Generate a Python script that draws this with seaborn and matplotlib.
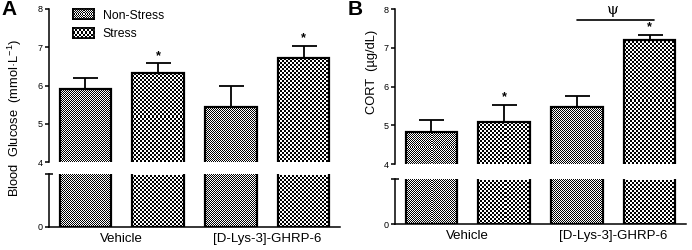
import numpy as np
import pandas as pd
import matplotlib
matplotlib.use("Agg")
import matplotlib.pyplot as plt
import seaborn as sns
from matplotlib.patches import Patch

# ---- data ----
groups = ["Vehicle", "[D-Lys-3]-GHRP-6"]
conditions = ["Non-Stress", "Stress"]

glucose_mean = [5.90, 6.32, 5.43, 6.72]   # Vehicle NS, Vehicle S, GHRP NS, GHRP S
glucose_sem = [0.30, 0.26, 0.57, 0.31]
glucose_star = [False, True, False, True]

cort_mean = [4.82, 5.08, 5.47, 7.20]
cort_sem = [0.33, 0.45, 0.30, 0.13]
cort_star = [False, True, False, True]
cort_psi_level = 7.72

checker_cell = {"Non-Stress": 1, "Stress": 2}

sns.set_style("ticks")
plt.rcParams["font.family"] = ["Liberation Sans", "DejaVu Sans"]
plt.rcParams["axes.linewidth"] = 1.1
plt.rcParams["axes.edgecolor"] = "black"
plt.rcParams["xtick.color"] = "black"
plt.rcParams["ytick.color"] = "black"
plt.rcParams["text.color"] = "black"
plt.rcParams["axes.labelcolor"] = "black"
plt.rcParams["mathtext.fontset"] = "custom"
plt.rcParams["mathtext.rm"] = "Liberation Sans"
plt.rcParams["mathtext.it"] = "Liberation Sans:italic"


def make_df(means):
    rows = []
    k = 0
    for g in groups:
        for c in conditions:
            rows.append({"group": g, "condition": c, "value": means[k]})
            k += 1
    return pd.DataFrame(rows)


def checker(ny, nx):
    yy, xx = np.indices((ny, nx))
    return (xx + yy) % 2


def fill_checker(ax, patch, cell):
    # pixel-aligned checkerboard covering the visible part of the bar
    lo, hi = ax.get_ylim()
    x0, x1 = patch.get_x(), patch.get_x() + patch.get_width()
    y0 = max(patch.get_y(), lo)
    y1 = min(patch.get_y() + patch.get_height(), hi)
    p0 = ax.transData.transform((x0, y0))
    p1 = ax.transData.transform((x1, y1))
    px0, py0 = np.round(p0[0]), np.round(p0[1])
    nx = max(1, int((np.round(p1[0]) - px0) // cell))
    ny = max(1, int((np.round(p1[1]) - py0) // cell))
    inv = ax.transData.inverted()
    d0 = inv.transform((px0, py0))
    d1 = inv.transform((px0 + nx * cell, py0 + ny * cell))
    ax.imshow(checker(ny, nx), extent=(d0[0], d1[0], d0[1], d1[1]), origin="lower",
              cmap="gray", vmin=0, vmax=1, interpolation="nearest",
              aspect="auto", zorder=1.5)
    patch.set_facecolor("none")
    patch.set_zorder(2)


def bars(ax, df):
    sns.barplot(data=df, x="group", y="value", hue="condition",
                hue_order=conditions, order=groups, width=1.0, gap=0.29,
                errorbar=None, edgecolor="black", linewidth=1.6,
                palette=["white", "white"], legend=False, ax=ax)


def draw_panel(ax_top, ax_bot, means, sems, stars, ylabel, ylab_xy, letter, letter_xy):
    df = make_df(means)
    for ax in (ax_top, ax_bot):
        bars(ax, df)
        ax.set_xlim(-0.5, 1.5)
    ax_top.set_ylim(4, 8)
    ax_bot.set_ylim(0, 1)
    fig.canvas.draw()

    for ax in (ax_top, ax_bot):
        rects = sorted(ax.patches, key=lambda p: p.get_x())
        for i, r in enumerate(rects):
            fill_checker(ax, r, checker_cell[conditions[i % 2]])
        ax.set_xlim(-0.5, 1.5)
    ax_top.set_ylim(4, 8)
    ax_bot.set_ylim(0, 1)

    rects = sorted(ax_top.patches, key=lambda p: p.get_x())
    xc = [r.get_x() + r.get_width() / 2 for r in rects]
    ax_top.errorbar(xc, means, yerr=[np.zeros(len(sems)), sems], fmt="none",
                    ecolor="black", elinewidth=1.3, capsize=9, capthick=1.3, zorder=1)
    for x, m, s, st in zip(xc, means, sems, stars):
        if st:
            ax_top.text(x, m + s + 0.12, "*", ha="center", va="baseline",
                        fontsize=9, fontweight="bold")

    # top axes: only the left spine
    sns.despine(ax=ax_top, bottom=True)
    ax_top.set_xticks([])
    ax_top.set_xlabel("")
    ax_top.set_ylabel("")
    ax_top.set_yticks([4, 5, 6, 7, 8])
    ax_top.tick_params(axis="y", labelsize=6.5, length=3, width=1.1, pad=1.5)

    sns.despine(ax=ax_bot)
    ax_bot.set_yticks([0])
    ax_bot.set_yticks([1], minor=True)
    ax_bot.tick_params(axis="y", which="major", labelsize=6.5, length=3, width=1.1, pad=1.5)
    ax_bot.tick_params(axis="y", which="minor", direction="inout", length=6, width=1.1)
    ax_bot.tick_params(axis="x", length=0, labelsize=9.5, pad=4)
    ax_bot.set_xlabel("")
    ax_bot.set_ylabel("")

    fig.text(ylab_xy[0], ylab_xy[1], ylabel, rotation=90, ha="center", va="center",
             fontsize=9.3)
    fig.text(letter_xy[0], letter_xy[1], letter, fontsize=15, fontweight="bold",
             ha="left", va="top")
    return xc


fig = plt.figure(figsize=(6.92, 2.5), dpi=100)

axA_top = fig.add_axes([49 / 692, 1 - 162 / 250, 291 / 692, 153 / 250])
axA_bot = fig.add_axes([49 / 692, 1 - 227 / 250, 291 / 692, 53 / 250])
axB_top = fig.add_axes([395 / 692, 1 - 164 / 250, 291 / 692, 154.7 / 250])
axB_bot = fig.add_axes([395 / 692, 1 - 224 / 250, 291 / 692, 45 / 250])

draw_panel(axA_top, axA_bot, glucose_mean, glucose_sem, glucose_star,
           "Blood  Glucose  (mmol·L$^{-1}$)", (15 / 692, 1 - 118 / 250),
           "A", (1 / 692, 1.0))
xcB = draw_panel(axB_top, axB_bot, cort_mean, cort_sem, cort_star,
                 "CORT  (µg/dL)", (372 / 692, 1 - 72 / 250),
                 "B", (348 / 692, 1.0))

# significance bar between the two [D-Lys-3]-GHRP-6 bars
axB_top.plot([xcB[2], xcB[3] + 0.03], [cort_psi_level, cort_psi_level],
             color="black", lw=1.2, clip_on=False)
axB_top.text((xcB[2] + xcB[3]) / 2 - 0.01, cort_psi_level + 0.08, "ψ",
             ha="center", va="bottom", fontsize=11, family="DejaVu Serif")

handles = [Patch(facecolor="white", edgecolor="black", linewidth=1.2, label=c)
           for c in conditions]
leg = axA_top.legend(handles=handles, loc="upper left",
                     bbox_to_anchor=(0.065, 1.03), frameon=False, fontsize=8.8,
                     handlelength=1.75, handleheight=0.9, handletextpad=0.7,
                     labelspacing=0.5, borderaxespad=0)

fig.canvas.draw()
inv = fig.transFigure.inverted()
for h, c in zip(leg.legend_handles, conditions):
    bb = h.get_window_extent()
    fb = bb.transformed(inv)
    sub = fig.add_axes([fb.x0, fb.y0, fb.width, fb.height])
    cell = checker_cell[c]
    sub.imshow(checker(max(1, int(round(bb.height / cell))), max(1, int(round(bb.width / cell)))),
               cmap="gray", vmin=0, vmax=1, interpolation="nearest", aspect="auto")
    sub.set_xticks([])
    sub.set_yticks([])
    for s in sub.spines.values():
        s.set_linewidth(1.2)
        s.set_color("black")

fig.savefig("out.png", dpi=100)
